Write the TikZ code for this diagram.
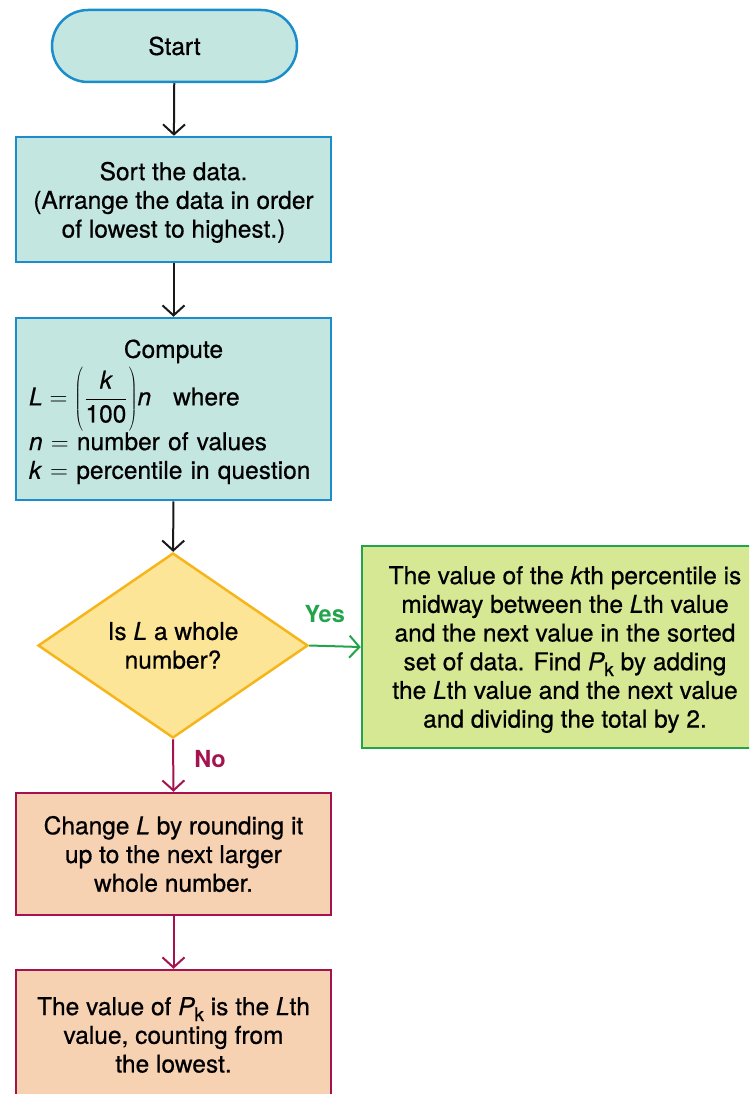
\documentclass[tikz,border=0pt]{standalone}
\usepackage{fontspec}
\usepackage{graphicx}
\setmainfont{TeX Gyre Heros}[UprightFeatures={FakeBold=0.6}, ItalicFeatures={FakeBold=0.6}]
\usetikzlibrary{shapes.geometric,arrows.meta}
\definecolor{tealfill}{HTML}{C4E6E1}
\definecolor{tealline}{HTML}{1B8DCB}
\definecolor{yelfill}{HTML}{FDE597}
\definecolor{yelline}{HTML}{F6B51A}
\definecolor{grnfill}{HTML}{D6E893}
\definecolor{grnline}{HTML}{22A44B}
\definecolor{pinkfill}{HTML}{F6D1B2}
\definecolor{pinkline}{HTML}{A5134F}
\newcommand{\mainfnt}{\fontsize{24.5}{28.7}\selectfont}
\newcommand{\Pk}{\textit{P}\kern-0.5pt\raisebox{-6pt}{\fontsize{19}{19}\selectfont k}}
\newcommand{\myLP}{\vcenter{\hbox{\scalebox{1}[1.18]{$\left(\vrule height 21pt depth 21pt width 0pt\right.$}}}}
\newcommand{\myRP}{\vcenter{\hbox{\scalebox{1}[1.18]{$\left.\vrule height 21pt depth 21pt width 0pt\right)$}}}}
\tikzset{
  basebox/.style={rectangle, line width=2.5pt, align=center, inner sep=0pt, font=\mainfnt, text=black},
  bluebox/.style={basebox, draw=tealline, fill=tealfill},
  greenbox/.style={basebox, draw=grnline, fill=grnfill},
  pinkbox/.style={basebox, draw=pinkline, fill=pinkfill},
  decision/.style={diamond, line width=2.5pt, draw=yelline, fill=yelfill, align=center, inner sep=0pt, font=\mainfnt},
  arr/.style={line width=2pt, -{Straight Barb[length=10pt,width=22pt]}},
  lbl/.style={font=\fontsize{23.5}{23.5}\selectfont\bfseries, inner sep=0pt},
}
\begin{document}
\begin{tikzpicture}[x=1pt,y=-1pt]
\useasboundingbox (0,0) rectangle (749,1094);
\clip (0,0) rectangle (749,1094);

\node[bluebox, rounded corners=36pt, minimum width=245pt, minimum height=72pt] (start) at (174.5,46) {Start};
\node[bluebox, minimum width=315pt, minimum height=125pt] (sort) at (173.5,199.5)
  {\rule{0pt}{24pt}Sort the data.\\(Arrange the data in order\\of lowest to highest.)};
\node[bluebox, minimum width=315pt, minimum height=182pt, text width=289pt, align=left] (comp) at (173.5,409)
  {\rule{0pt}{24pt}\makebox[\linewidth][c]{Compute}\\[3pt]
   $\mbox{\itshape L} = \myLP\displaystyle\frac{\mbox{\itshape k}}{\mbox{100}}\myRP\mbox{\itshape n}$\hspace{22pt}where\\[0pt]
   \textit{n} $=$ number of values\\
   \textit{k} $=$ percentile in question};
\node[decision, minimum width=270pt, minimum height=185pt, aspect=1.46] (dec) at (173,645.5)
  {Is \textit{L} a whole\\number?};
\node[greenbox, minimum width=406pt, minimum height=202pt] (yes) at (565,647)
  {\rule{0pt}{23pt}The value of the \textit{k}th percentile is\\
   midway between the \textit{L}th value\\
   and the next value in the sorted\\
   set of data. Find \Pk{} by adding\\
   the \textit{L}th value and the next value\\
   and dividing the total by 2.};
\node[pinkbox, minimum width=315pt, minimum height=122pt] (chg) at (173.5,854)
  {Change \textit{L} by rounding it\\up to the next larger\\whole number.};
\node[pinkbox, minimum width=315pt, minimum height=130pt] (last) at (173.5,1035)
  {The value of \Pk{} is the \textit{L}th\\value, counting from\\the lowest.};

\draw[arr, black!90] (start) -- (sort);
\draw[arr, black!90] (sort) -- (comp);
\draw[arr, black!90] (comp) -- (dec);
\draw[arr, grnline] (dec.east) -- (yes.west) node[lbl, text=grnline, pos=0.3, anchor=base, yshift=23.5pt] {Yes};
\draw[arr, pinkline] (dec.south) -- (chg.north) node[lbl, text=pinkline, pos=0.545, anchor=base west, xshift=20pt] {No};
\draw[arr, pinkline] (chg) -- (last);
\end{tikzpicture}
\end{document}
